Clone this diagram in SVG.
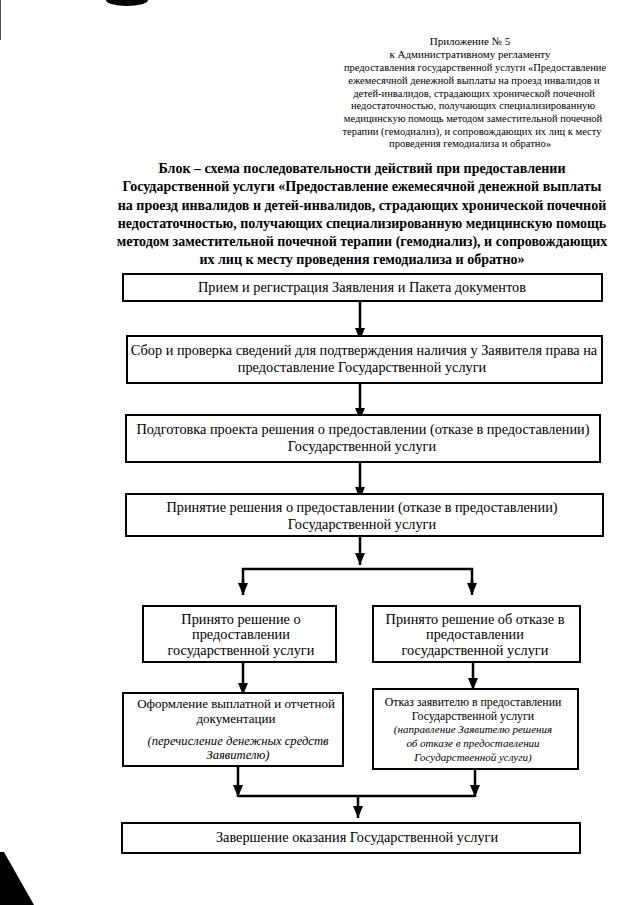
<svg xmlns="http://www.w3.org/2000/svg" width="640" height="905" viewBox="0 0 640 905">
<defs>
<style>
text{font-family:"Liberation Serif","Times New Roman",serif;fill:#000}
.hd{font-size:10.5px;text-anchor:middle}
.tt{font-size:14px;font-weight:bold;text-anchor:middle}
.bx{font-size:14.3px;text-anchor:middle}
.sm{font-size:11.8px;text-anchor:middle}
.it{font-style:italic;font-size:11px}
.box{fill:#fff;stroke:#000;stroke-width:2}
.ln{fill:none;stroke:#000;stroke-width:2.5}
</style>
<marker id="ah" viewBox="0 0 12 10" refX="12" refY="5" markerWidth="12" markerHeight="10" markerUnits="userSpaceOnUse" orient="auto">
<path d="M0,0 L12,5 L0,10 z" fill="#000"/>
</marker>
</defs>
<rect width="640" height="905" fill="#fff"/>
<!-- scan artifacts -->
<ellipse cx="127" cy="0" rx="21" ry="6" fill="#000"/>
<path d="M0,852 L4,852 L34,905 L0,905 z" fill="#000"/>
<line x1="0.5" y1="0" x2="0.5" y2="40" stroke="#555" stroke-width="1"/>

<g id="header">
<text class="hd" x="470" y="45" style="font-size:11px">Приложение № 5</text>
<text class="hd" x="470" y="58" style="font-size:11px">к Административному регламенту</text>
<text class="hd" x="475" y="71">предоставления государственной услуги «Предоставление</text>
<text class="hd" x="474" y="84">ежемесячной денежной выплаты на проезд инвалидов и</text>
<text class="hd" x="474" y="97">детей-инвалидов, страдающих хронической почечной</text>
<text class="hd" x="473" y="109">недостаточностью, получающих специализированную</text>
<text class="hd" x="473" y="122">медицинскую помощь методом заместительной почечной</text>
<text class="hd" x="472" y="135">терапии (гемодиализ), и сопровождающих их лиц к месту</text>
<text class="hd" x="470" y="147">проведения гемодиализа и обратно»</text>
</g>

<g id="title">
<text class="tt" x="362" y="173">Блок – схема последовательности действий при предоставлении</text>
<text class="tt" x="362" y="191">Государственной услуги «Предоставление ежемесячной денежной выплаты</text>
<text class="tt" x="362" y="210">на проезд инвалидов и детей-инвалидов, страдающих хронической почечной</text>
<text class="tt" x="362" y="228">недостаточностью, получающих специализированную медицинскую помощь</text>
<text class="tt" x="362" y="246">методом заместительной почечной терапии (гемодиализ), и сопровождающих</text>
<text class="tt" x="362" y="264">их лиц к месту проведения гемодиализа и обратно»</text>
</g>

<g id="connectors">
<line class="ln" x1="360" y1="301" x2="360" y2="340" marker-end="url(#ah)"/>
<line class="ln" x1="360" y1="383" x2="360" y2="420" marker-end="url(#ah)"/>
<line class="ln" x1="360" y1="462" x2="360" y2="499" marker-end="url(#ah)"/>
<line class="ln" x1="360" y1="536" x2="360" y2="565" marker-end="url(#ah)"/>
<polyline class="ln" points="243,592 243,569 472,569 472,592"/>
<line class="ln" x1="243" y1="580" x2="243" y2="595" marker-end="url(#ah)"/>
<line class="ln" x1="472" y1="580" x2="472" y2="595" marker-end="url(#ah)"/>
<line class="ln" x1="243" y1="662" x2="243" y2="695" marker-end="url(#ah)"/>
<line class="ln" x1="473" y1="662" x2="473" y2="690" marker-end="url(#ah)"/>
<line class="ln" x1="238" y1="766" x2="238" y2="797" marker-end="url(#ah)"/>
<line class="ln" x1="475" y1="769" x2="475" y2="797" marker-end="url(#ah)"/>
<line class="ln" x1="238" y1="796" x2="475" y2="796"/>
<line class="ln" x1="358" y1="796" x2="358" y2="818" marker-end="url(#ah)"/>
</g>

<g id="n1">
<rect class="box" x="123" y="274" width="479" height="27"/>
<text class="bx" x="362" y="292">Прием и регистрация Заявления и Пакета документов</text>
</g>
<g id="n2">
<rect class="box" x="127" y="336" width="475" height="47"/>
<text class="bx" x="364" y="355">Сбор и проверка сведений для подтверждения наличия у Заявителя права  на</text>
<text class="bx" x="362" y="372">предоставление Государственной услуги</text>
</g>
<g id="n3">
<rect class="box" x="126" y="415" width="474" height="47"/>
<text class="bx" x="363" y="434">Подготовка проекта решения о предоставлении (отказе в предоставлении)</text>
<text class="bx" x="362" y="451">Государственной услуги</text>
</g>
<g id="n4">
<rect class="box" x="126" y="494" width="477" height="42"/>
<text class="bx" x="362" y="512">Принятие решения о предоставлении (отказе в предоставлении)</text>
<text class="bx" x="362" y="529">Государственной услуги</text>
</g>
<g id="n5">
<rect class="box" x="143" y="606" width="193" height="56"/>
<text class="bx" x="241" y="624">Принято решение о</text>
<text class="bx" x="241" y="639">предоставлении</text>
<text class="bx" x="241" y="655">государственной услуги</text>
</g>
<g id="n6">
<rect class="box" x="373" y="606" width="207" height="56"/>
<text class="bx" x="475" y="624">Принято решение об отказе в</text>
<text class="bx" x="475" y="639">предоставлении</text>
<text class="bx" x="475" y="655">государственной услуги</text>
</g>
<g id="n7">
<rect class="box" x="123" y="693" width="220" height="73"/>
<text class="sm" x="236" y="708" style="font-size:13px">Оформление выплатной и отчетной</text>
<text class="sm" x="236" y="723" style="font-size:13px">документации</text>
<text class="sm it" x="238" y="745" style="font-size:12.6px">(перечисление денежных средств</text>
<text class="sm it" x="238" y="759" style="font-size:12.6px">Заявителю)</text>
</g>
<g id="n8">
<rect class="box" x="373" y="689" width="205" height="80"/>
<text class="sm" x="473" y="706">Отказ заявителю в предоставлении</text>
<text class="sm" x="473" y="720">Государственной услуги</text>
<text class="sm it" x="473" y="733">(направление Заявителю решения</text>
<text class="sm it" x="473" y="747">об отказе в предоставлении</text>
<text class="sm it" x="473" y="761">Государственной услуги)</text>
</g>
<g id="n9">
<rect class="box" x="122" y="823" width="458" height="30"/>
<text class="bx" x="357" y="842">Завершение оказания Государственной услуги</text>
</g>
</svg>
